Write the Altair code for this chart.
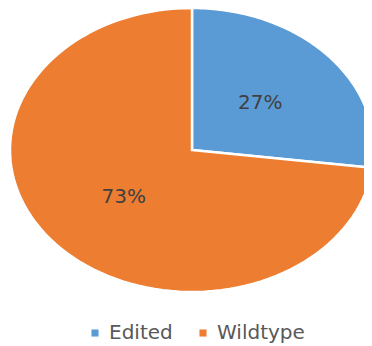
import altair as alt
import pandas as pd

categories = ["Edited", "Wildtype"]
values = [27, 73]
colors = ["#5B9BD5", "#ED7D31"]

df = pd.DataFrame({"category": categories, "value": values, "order": [0, 1]})

W, H = 356, 338
xs = alt.Scale(domain=[-1.011, 0.945], range=[0, W], nice=False, zero=False)
ys = alt.Scale(domain=[1 - H / 142.0, 1.0], nice=False, zero=False)

base = (
    alt.Chart(df)
    .transform_joinaggregate(total="sum(value)")
    .transform_window(cum="sum(value)", sort=[alt.SortField("order")])
    .transform_calculate(
        a0="2*PI*(datum.cum - datum.value)/datum.total",
        a1="2*PI*datum.cum/datum.total",
    )
)

slices = (
    base.transform_calculate(t="sequence(-0.01, 1.0001, 0.01)")
    .transform_flatten(["t"])
    .transform_calculate(
        ang="datum.a0 + max(datum.t, 0)*(datum.a1 - datum.a0)",
    )
    .transform_calculate(
        px="datum.t < -0.005 ? 0 : sin(datum.ang)",
        py="datum.t < -0.005 ? 0 : cos(datum.ang)",
    )
    .mark_line(interpolate="linear-closed", stroke="white", strokeWidth=2.5, clip=True)
    .encode(
        x=alt.X("px:Q", scale=xs, axis=None),
        y=alt.Y("py:Q", scale=ys, axis=None),
        fill=alt.Fill(
            "category:N",
            scale=alt.Scale(domain=categories, range=colors),
            legend=alt.Legend(
                orient="none",
                legendX=77,
                legendY=315,
                direction="horizontal",
                title=None,
                symbolType="square",
                symbolSize=50,
                symbolStrokeWidth=0,
                labelFont="DejaVu Sans",
                labelFontSize=20,
                labelColor="#595959",
                labelOffset=4,
                columnPadding=20,
                padding=0,
            ),
        ),
        detail="category:N",
        order=alt.Order("t:Q"),
    )
)

labels = (
    base.transform_calculate(
        mid="(datum.a0 + datum.a1)/2",
    )
    .transform_calculate(
        lx="0.5*sin(datum.mid)",
        ly="0.5*cos(datum.mid)",
        label="format(datum.value/datum.total, '.0%')",
    )
    .mark_text(font="DejaVu Sans", fontSize=20, color="#404040", baseline="middle", align="center")
    .encode(
        x=alt.X("lx:Q", scale=xs, axis=None),
        y=alt.Y("ly:Q", scale=ys, axis=None),
        text="label:N",
    )
)

chart = (
    alt.layer(slices, labels)
    .properties(width=W, height=H, padding=0, autosize=alt.AutoSizeParams(type="none"))
    .configure_view(stroke=None)
)

chart.save("out.html", embed_options={"renderer": "svg", "actions": False})
